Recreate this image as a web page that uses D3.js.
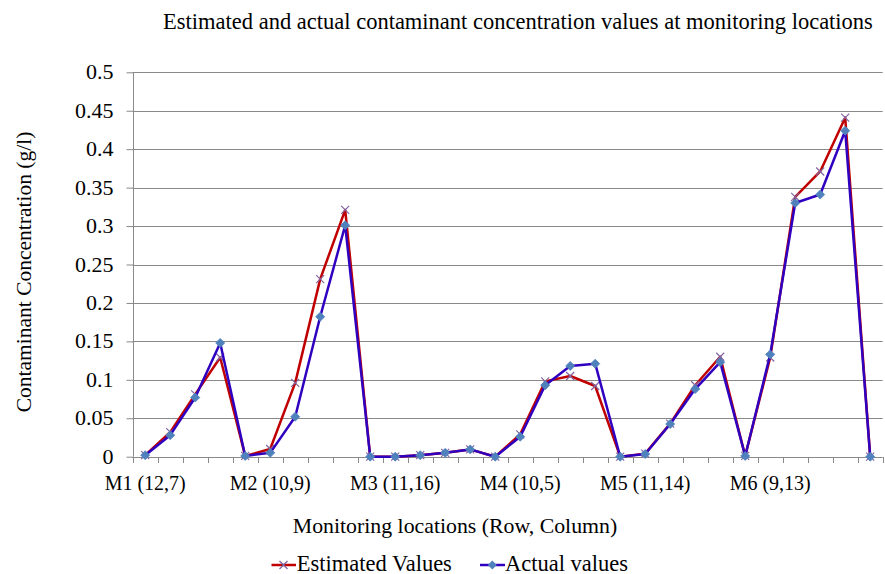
<!DOCTYPE html>
<html>
<head>
<meta charset="utf-8">
<script src="https://cdn.jsdelivr.net/npm/d3@7"></script>
<style>
  html, body { margin: 0; padding: 0; background: #fff; }
  svg { display: block; }
</style>
</head>
<body>
<svg id="chart" width="885" height="574"></svg>
<script>
// ---- data ----
const siteLabels = ["M1 (12,7)", "M2 (10,9)", "M3 (11,16)", "M4 (10,5)", "M5 (11,14)", "M6 (9,13)"];
const siteIndex = [0, 5, 10, 15, 20, 25];
const estimatedValues = [0.002, 0.032, 0.081, 0.129, 0.001, 0.010, 0.096, 0.231, 0.321, 0.000,
                         0.000, 0.002, 0.005, 0.0095, 0.000, 0.029, 0.098, 0.105, 0.092, 0.000,
                         0.004, 0.043, 0.093, 0.130, 0.001, 0.129, 0.338, 0.371, 0.441, 0.000];
const actualValues    = [0.002, 0.028, 0.077, 0.148, 0.001, 0.005, 0.052, 0.182, 0.301, 0.000,
                         0.000, 0.002, 0.005, 0.0095, 0.000, 0.026, 0.093, 0.118, 0.121, 0.000,
                         0.0035, 0.0425, 0.088, 0.123, 0.001, 0.133, 0.330, 0.341, 0.424, 0.000];
const yTicks = [0, 0.05, 0.1, 0.15, 0.2, 0.25, 0.3, 0.35, 0.4, 0.45, 0.5];
const seriesNames = ["Estimated Values", "Actual values"];

// ---- layout ----
const FONT = '"Liberation Serif"';
const svg = d3.select("#chart");
const pLeft = 132.7, pRight = 882.7, pTop = 72.3, pBottom = 456.7;

const x = d3.scaleBand().domain(d3.range(estimatedValues.length)).range([pLeft, pRight]).padding(0);
const y = d3.scaleLinear().domain([0, 0.5]).range([pBottom, pTop]);
const cx = i => x(i) + x.bandwidth() / 2;

const gridColor = "#898989";
const redColor = "#C00000", blueColor = "#3000C0", xMarkColor = "#8064A2", diamondColor = "#4F81BD";

// gridlines
svg.append("g").selectAll("line").data(yTicks.filter(d => d > 0)).join("line")
  .attr("x1", pLeft).attr("x2", pRight)
  .attr("y1", d => Math.round(y(d)) + 0.5).attr("y2", d => Math.round(y(d)) + 0.5)
  .attr("stroke", gridColor).attr("stroke-width", 1);

// y axis
const yAxis = d3.axisLeft(y).tickValues(yTicks).tickSize(7).tickPadding(13)
  .tickFormat(d => String(+d.toFixed(2)));
const gy = svg.append("g").attr("transform", `translate(${Math.round(pLeft) + 0.5},0)`).call(yAxis);
gy.attr("font-family", null).attr("font-size", null);
gy.select(".domain").attr("stroke", gridColor).attr("d", `M0,${y(0.5)}V${y(0)}`);
gy.selectAll(".tick line").attr("stroke", gridColor);
gy.selectAll(".tick text").attr("fill", "#000").attr("dy", "0.3em")
  .attr("font-size", 22).style("font-family", FONT);

// x axis: ticks between categories
const gx = svg.append("g");
gx.append("line").attr("x1", pLeft).attr("x2", pRight)
  .attr("y1", Math.round(pBottom) + 0.5).attr("y2", Math.round(pBottom) + 0.5)
  .attr("stroke", gridColor);
gx.selectAll("line.tk").data(d3.range(estimatedValues.length + 1)).join("line")
  .attr("class", "tk")
  .attr("x1", i => Math.round(pLeft + i * x.bandwidth()) + 0.5)
  .attr("x2", i => Math.round(pLeft + i * x.bandwidth()) + 0.5)
  .attr("y1", Math.round(pBottom)).attr("y2", Math.round(pBottom) + 6)
  .attr("stroke", gridColor);
gx.selectAll("text").data(siteLabels).join("text")
  .attr("x", (d, k) => cx(siteIndex[k]))
  .attr("y", 490)
  .attr("text-anchor", "middle")
  .attr("font-size", 20).style("font-family", FONT)
  .text(d => d);

// lines
const line = d3.line().x((d, i) => cx(i)).y(d => y(d));
svg.append("path").datum(estimatedValues).attr("d", line)
  .attr("fill", "none").attr("stroke", redColor).attr("stroke-width", 2.5).attr("stroke-linejoin", "round");
const xm = 4;
svg.append("g").selectAll("path").data(estimatedValues).join("path")
  .attr("d", (d, i) => `M${cx(i) - xm},${y(d) - xm}L${cx(i) + xm},${y(d) + xm}M${cx(i) - xm},${y(d) + xm}L${cx(i) + xm},${y(d) - xm}`)
  .attr("stroke", xMarkColor).attr("stroke-width", 1.2).attr("fill", "none");

svg.append("path").datum(actualValues).attr("d", line)
  .attr("fill", "none").attr("stroke", blueColor).attr("stroke-width", 2.5).attr("stroke-linejoin", "round");
const dm = 4.5;
svg.append("g").selectAll("path").data(actualValues).join("path")
  .attr("d", (d, i) => `M${cx(i)},${y(d) - dm}L${cx(i) + dm},${y(d)}L${cx(i)},${y(d) + dm}L${cx(i) - dm},${y(d)}Z`)
  .attr("fill", diamondColor).attr("stroke", diamondColor).attr("stroke-width", 0.8);

// title
svg.append("text").attr("x", 518).attr("y", 28.5).attr("text-anchor", "middle")
  .attr("font-size", 22.5).style("font-family", FONT)
  .text("Estimated and actual contaminant concentration values at monitoring locations");

// axis titles
svg.append("text").attr("transform", "translate(31,272) rotate(-90)").attr("text-anchor", "middle")
  .attr("font-size", 21.5).style("font-family", FONT)
  .text("Contaminant Concentration (g/l)");
svg.append("text").attr("x", 455).attr("y", 533).attr("text-anchor", "middle")
  .attr("font-size", 21.8).style("font-family", FONT)
  .text("Monitoring locations (Row, Column)");

// legend
const lg = svg.append("g");
const ly = 565;
lg.append("line").attr("x1", 271.5).attr("x2", 296).attr("y1", ly).attr("y2", ly)
  .attr("stroke", redColor).attr("stroke-width", 2.5);
lg.append("path").attr("d", `M${283.5 - xm},${ly - xm}L${283.5 + xm},${ly + xm}M${283.5 - xm},${ly + xm}L${283.5 + xm},${ly - xm}`)
  .attr("stroke", xMarkColor).attr("stroke-width", 1.2);
lg.append("text").attr("x", 296.7).attr("y", 570.5)
  .attr("font-size", 22.5).style("font-family", FONT).text(seriesNames[0]);
lg.append("line").attr("x1", 480).attr("x2", 505).attr("y1", ly).attr("y2", ly)
  .attr("stroke", blueColor).attr("stroke-width", 2.5);
lg.append("path").attr("d", `M492.3,${ly - dm}L${492.3 + dm},${ly}L492.3,${ly + dm}L${492.3 - dm},${ly}Z`)
  .attr("fill", diamondColor);
lg.append("text").attr("x", 505).attr("y", 570.5)
  .attr("font-size", 22.5).style("font-family", FONT).text(seriesNames[1]);
</script>
</body>
</html>
